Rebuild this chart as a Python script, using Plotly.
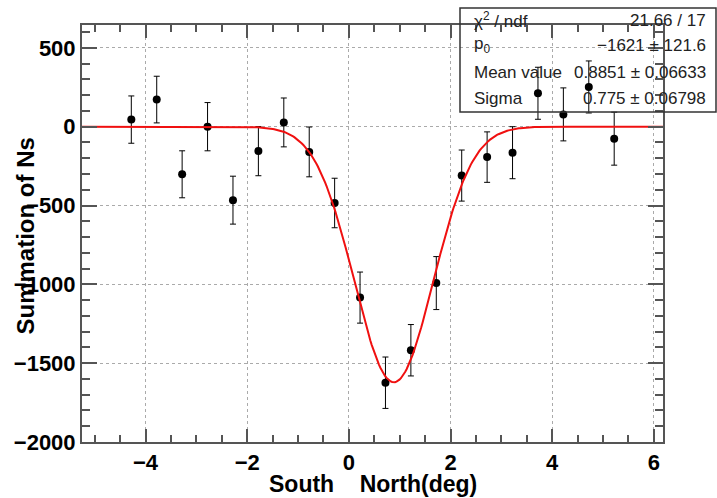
import numpy as np
import plotly.graph_objects as go

# Data
x_deg = [-4.28, -3.78, -3.28, -2.78, -2.28, -1.78, -1.28, -0.78, -0.28, 0.22,
         0.72, 1.22, 1.72, 2.22, 2.72, 3.22, 3.72, 4.22, 4.72, 5.22]
sum_ns = [45, 172, -302, 0, -466, -155, 27, -160, -484, -1084,
          -1624, -1418, -992, -310, -193, -165, 212, 78, 252, -76]
sum_err = [150, 148, 149, 153, 152, 156, 155, 158, 157, 162,
           163, 163, 168, 162, 160, 165, 165, 168, 165, 168]

# Gaussian fit parameters (from the stats box)
p0 = -1621.0
mean_val = 0.8851
sigma = 0.775
stat_labels = ["χ<sup>2</sup> / ndf", "p<sub>0</sub>", "Mean value", "Sigma"]
stat_values = ["21.66 / 17", "−1621 ± 121.6", "0.8851 ± 0.06633", "0.775 ± 0.06798"]

x_range = [-5.25, 6.18]
y_range = [-2000, 645]

xf = np.linspace(x_range[0], x_range[1], 400)
yf = p0 * np.exp(-0.5 * ((xf - mean_val) / sigma) ** 2)

fig = go.Figure()
fig.add_trace(go.Scatter(
    x=x_deg, y=sum_ns, mode="markers",
    marker=dict(color="black", size=8),
    error_y=dict(type="data", array=sum_err, color="black", thickness=1, width=3),
    showlegend=False, cliponaxis=False,
))
fig.add_trace(go.Scatter(
    x=xf, y=yf, mode="lines", line=dict(color="#f01010", width=2),
    showlegend=False,
))

FONT = "Liberation Sans, Arial, Helvetica, sans-serif"
axis_common = dict(
    showline=True, linecolor="#555555", linewidth=2, mirror="ticks",
    ticks="inside", tickcolor="#555555", tickwidth=1.5,
    showgrid=True, gridcolor="#aaaaaa", griddash="dot", gridwidth=1,
    zeroline=False,
    tickfont=dict(family=FONT, size=22, color="black", weight="bold"),
)

fig.update_xaxes(range=x_range, dtick=2, tick0=0, ticklen=13,
                 minor=dict(dtick=0.5, tick0=0, ticks="inside", ticklen=7,
                            tickcolor="#555555", showgrid=False),
                 **axis_common)
fig.update_yaxes(range=y_range, dtick=500, tick0=0, ticklen=15,
                 minor=dict(dtick=100, tick0=0, ticks="inside", ticklen=8,
                            tickcolor="#555555", showgrid=False),
                 **axis_common)

annotations = [
    dict(text="South\u00a0\u00a0\u00a0\u00a0North(deg)", xref="paper", yref="paper",
         x=0.5, y=0, yanchor="middle", yshift=-42, showarrow=False,
         font=dict(family=FONT, size=23, color="black", weight="bold")),
    dict(text="Summation of Ns", xref="paper", yref="paper", textangle=-90,
         x=0, y=0.5, xanchor="center", xshift=-57, yshift=-3, showarrow=False,
         font=dict(family=FONT, size=24, color="black", weight="bold")),
]

row_y = [20, 45, 72, 98]
for lab, val, ry in zip(stat_labels, stat_values, row_y):
    annotations.append(dict(text=lab, xref="paper", yref="paper", x=0, y=1,
                            xanchor="left", yanchor="middle",
                            xshift=472 - 82, yshift=25 - ry, showarrow=False,
                            font=dict(family=FONT, size=17, color="#222222")))
    annotations.append(dict(text=val, xref="paper", yref="paper", x=0, y=1,
                            xanchor="right", yanchor="middle",
                            xshift=708 - 82, yshift=25 - ry, showarrow=False,
                            font=dict(family=FONT, size=17, color="#222222")))

W, H = 717, 498
ml, mr, mt, mb = 82, 54, 25, 56
pw, ph = W - ml - mr, H - mt - mb


def px2paper(px, py):
    return (px - ml) / pw, 1 - (py - mt) / ph


bx0, by0 = px2paper(460, 112)
bx1, by1 = px2paper(716, 8)

fig.update_layout(
    width=W, height=H,
    margin=dict(l=ml, r=mr, t=mt, b=mb),
    paper_bgcolor="white", plot_bgcolor="white",
    annotations=annotations,
    shapes=[dict(type="rect", xref="paper", yref="paper",
                 x0=bx0, x1=bx1, y0=by0, y1=by1,
                 line=dict(color="#333333", width=1.5), fillcolor="rgba(0,0,0,0)",
                 layer="above")],
    font=dict(family=FONT),
)

fig.write_html("out.html")
